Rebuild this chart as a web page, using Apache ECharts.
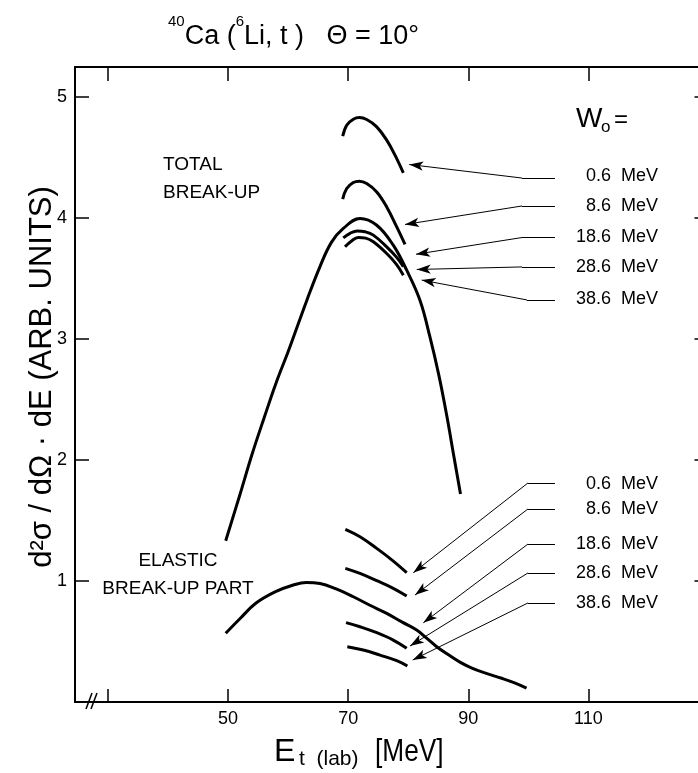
<!DOCTYPE html>
<html>
<head>
<meta charset="utf-8">
<script src="https://cdn.jsdelivr.net/npm/echarts@6/dist/echarts.min.js"></script>
<style>html,body{margin:0;padding:0;background:#fff}#c{width:698px;height:773px}</style>
</head>
<body>
<div id="c"></div>
<script>
// ---- data (E_t in MeV, cross section in arb. units) ----
const xTickValues = [30, 50, 70, 90, 110];
const xLabelValues = [50, 70, 90, 110];
const yTickValues = [1, 2, 3, 4, 5];

const total_0_6 = [[69.08,4.678],[69.75,4.769],[70.85,4.818],[71.85,4.832],[73.08,4.816],[74.75,4.755],[76.41,4.645],[77.79,4.521],[79.18,4.374]];
const total_8_6 = [[69.08,4.157],[69.75,4.245],[70.85,4.295],[71.85,4.306],[73.08,4.287],[74.75,4.217],[76.41,4.093],[78.08,3.928],[79.46,3.783]];
const total_18_6 = [[49.6,1.333],[52,1.72],[54,2.05],[56,2.35],[58,2.64],[60.1,2.91],[63.1,3.32],[65.3,3.60],[67.2,3.80],[69.18,3.915],[71.96,3.998],[74.75,3.942],[77.5,3.777],[79.74,3.57],[81.96,3.32],[83.6,3.02],[85.1,2.70],[86.4,2.37],[87.6,2.03],[88.7,1.72]];
const total_28_6 = [[69.18,3.837],[70.3,3.875],[71.52,3.895],[72.8,3.888],[74.18,3.86],[76.41,3.763],[78,3.68],[79.18,3.6]];
const total_38_6 = [[69.47,3.763],[70.5,3.81],[71.68,3.84],[72.9,3.835],[74.18,3.805],[76.41,3.708],[78,3.62],[79.18,3.529]];

const elastic_0_6 = [[69.52,1.427],[71.96,1.366],[74.75,1.270],[77.51,1.165],[79.74,1.069]];
const elastic_8_6 = [[69.52,1.105],[71.96,1.063],[74.75,1.003],[77.5,0.94],[79.74,0.876]];
const elastic_18_6 = [[49.6,0.568],[52,0.69],[54.6,0.816],[57.9,0.912],[60.86,0.967],[63,0.988],[65.3,0.98],[68,0.935],[70.85,0.87],[73.6,0.80],[76.41,0.733],[79,0.66],[81.4,0.595],[83,0.53],[84.74,0.457],[86.7,0.39],[88.6,0.33],[90.5,0.283],[92.5,0.245],[95.56,0.196],[97.6,0.16],[99.7,0.115]];
const elastic_28_6 = [[69.63,0.656],[71.96,0.622],[74.75,0.573],[77.5,0.512],[79.74,0.444]];
const elastic_38_6 = [[69.85,0.457],[72.5,0.43],[75.3,0.388],[78.08,0.342],[79.85,0.298]];

// annotation leaders: [arrow tip, kink, end] in data coords
const wLabels = ['0.6  MeV', '8.6  MeV', '18.6  MeV', '28.6  MeV', '38.6  MeV'];
const totalLeaders = [
  [[80.17,4.444],[98.94,4.332],[104.43,4.332]],
  [[79.46,3.948],[98.94,4.101],[104.43,4.101]],
  [[81.29,3.702],[98.94,3.840],[104.43,3.840]],
  [[81.41,3.576],[98.94,3.597],[104.43,3.597]],
  [[82.24,3.488],[99.77,3.324],[104.43,3.324]]
];
const elasticLeaders = [
  [[80.84,1.069],[99.94,1.811],[104.43,1.811]],
  [[81.12,0.884],[99.94,1.596],[104.43,1.596]],
  [[82.51,0.655],[99.94,1.306],[104.43,1.306]],
  [[80.29,0.463],[99.94,1.067],[104.43,1.067]],
  [[80.74,0.347],[99.94,0.819],[104.43,0.819]]
];

const FONT = 'Liberation Sans';
const chart = echarts.init(document.getElementById('c'), null, {renderer: 'canvas'});

function curve(data, w) {
  return {type: 'line', data: data, smooth: 0.4, showSymbol: false, symbol: 'none',
    lineStyle: {color: '#000', width: w || 3}, z: 3, animation: false};
}
function leaderLines(leaders) {
  const d = [];
  leaders.forEach(function (l) {
    d.push([{coord: l[1], symbol: 'none'}, {coord: l[0], symbol: 'arrow', symbolSize: [7, 14]}]);
    d.push([{coord: l[1], symbol: 'none'}, {coord: l[2], symbol: 'none'}]);
  });
  return d;
}
function txt(x, y, s, size, extra) {
  return {type: 'text', x: x, y: y, style: Object.assign({text: s, fontSize: size, fontFamily: FONT, fill: '#000', verticalAlign: 'middle'}, extra || {})};
}

const option = {
  animation: false,
  backgroundColor: '#fff',
  grid: {left: 75, top: 67, width: 633.5, height: 635, containLabel: false, outerBoundsMode: 'none'},
  xAxis: [{
    type: 'value', min: 24.5, max: 130, position: 'bottom',
    axisLine: {show: true, onZero: false, lineStyle: {color: '#000', width: 2}},
    axisTick: {show: true, inside: true, length: 13, customValues: xTickValues, lineStyle: {color: '#000', width: 1.5}},
    axisLabel: {show: true, customValues: xLabelValues, color: '#000', fontSize: 18, fontFamily: FONT, margin: 8},
    splitLine: {show: false}
  }, {
    type: 'value', min: 24.5, max: 130, position: 'top',
    axisLine: {show: true, onZero: false, lineStyle: {color: '#000', width: 2}},
    axisTick: {show: true, inside: true, length: 14, customValues: xTickValues, lineStyle: {color: '#000', width: 1.5}},
    axisLabel: {show: false},
    splitLine: {show: false}
  }],
  yAxis: [{
    type: 'value', min: 0, max: 5.25, position: 'left',
    axisLine: {show: true, onZero: false, lineStyle: {color: '#000', width: 2}},
    axisTick: {show: true, inside: true, length: 14, customValues: yTickValues, lineStyle: {color: '#000', width: 1.5}},
    axisLabel: {show: true, customValues: yTickValues, color: '#000', fontSize: 18, fontFamily: FONT, margin: 8},
    splitLine: {show: false}
  }, {
    type: 'value', min: 0, max: 5.25, position: 'right',
    axisLine: {show: true, onZero: false, lineStyle: {color: '#000', width: 2}},
    axisTick: {show: true, inside: true, length: 14, customValues: yTickValues, lineStyle: {color: '#000', width: 1.5}},
    axisLabel: {show: false},
    splitLine: {show: false}
  }],
  series: [
    curve(total_0_6), curve(total_8_6), curve(total_18_6), curve(total_28_6), curve(total_38_6),
    curve(elastic_0_6), curve(elastic_8_6), curve(elastic_18_6), curve(elastic_28_6), curve(elastic_38_6),
    {type: 'line', data: [], silent: true,
      markLine: {silent: true, animation: false, symbol: ['none', 'none'], label: {show: false},
        lineStyle: {color: '#000', width: 1, type: 'solid'},
        data: leaderLines(totalLeaders).concat(leaderLines(elasticLeaders))}}
  ],
  graphic: [
    {type: 'text', left: 168, top: 14, style: {
      text: '{sup|40}{n|Ca (}{sup|6}{n|Li, t )   Θ = 10°}',
      rich: {n: {fontSize: 27, fontFamily: FONT, fill: '#000', lineHeight: 36, verticalAlign: 'bottom'},
             sup: {fontSize: 15, fontFamily: FONT, fill: '#000', lineHeight: 36, verticalAlign: 'top'}}}},
    Object.assign(txt(42, 377, 'd²σ / dΩ · dE (ARB. UNITS)', 31, {align: 'center'}), {rotation: Math.PI / 2}),
    txt(274, 752, 'E', 32),
    txt(299, 759, 't  (lab)', 21),
    {type: 'text', x: 375, y: 752, scaleX: 0.82, style: {text: '[MeV]', fontSize: 32, fontFamily: FONT, fill: '#000', verticalAlign: 'middle'}},
    txt(163, 165, 'TOTAL', 19),
    txt(163, 193, 'BREAK-UP', 19),
    txt(178, 561, 'ELASTIC', 19, {align: 'center'}),
    txt(178, 589, 'BREAK-UP PART', 19, {align: 'center'}),
    txt(576, 119, 'W', 28),
    txt(601, 127, 'o', 17),
    txt(614, 120, '=', 24),
    {type: 'group', children: [
      {type: 'line', shape: {x1: 86, y1: 709, x2: 92, y2: 693}, style: {stroke: '#000', lineWidth: 1.5}},
      {type: 'line', shape: {x1: 91, y1: 709, x2: 97, y2: 693}, style: {stroke: '#000', lineWidth: 1.5}}
    ]}
  ]
};

const topLabelY = [176, 206, 237, 267, 299];
const botLabelY = [484, 509, 544, 573, 603];
topLabelY.forEach(function (y, i) { option.graphic.push(txt(658, y, wLabels[i], 18, {align: 'right'})); });
botLabelY.forEach(function (y, i) { option.graphic.push(txt(658, y, wLabels[i], 18, {align: 'right'})); });

chart.setOption(option);
</script>
</body>
</html>
